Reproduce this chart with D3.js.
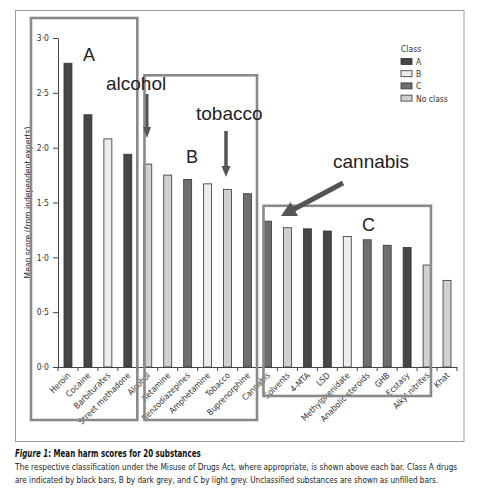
<!DOCTYPE html>
<html>
<head>
<meta charset="utf-8">
<script src="https://cdn.jsdelivr.net/npm/d3@7"></script>
<style>
  body { margin: 0; background: #fff; }
  svg { display: block; }
  .lab { font-family: "Liberation Sans Narrow", "DejaVu Sans Condensed", "Noto Sans", sans-serif; fill: #333; }
  .note { font-family: "Liberation Sans", Arial, sans-serif; fill: #222; }
  .cap { font-family: "Liberation Sans Narrow", "DejaVu Sans Condensed", "Noto Sans", sans-serif; fill: #222; }
</style>
</head>
<body>
<svg id="chart" width="479" height="492"></svg>
<script>
const substances = ['Heroin', 'Cocaine', 'Barbiturates', 'Street methadone', 'Alcohol',
  'Ketamine', 'Benzodiazepines', 'Amphetamine', 'Tobacco', 'Buprenorphine',
  'Cannabis', 'Solvents', '4-MTA', 'LSD', 'Methylphenidate',
  'Anabolic steroids', 'GHB', 'Ecstasy', 'Alkyl nitrites', 'Khat'];
const scores = [2.77, 2.30, 2.08, 1.94, 1.85, 1.75, 1.71, 1.67, 1.62, 1.58,
  1.33, 1.27, 1.26, 1.24, 1.19, 1.16, 1.11, 1.09, 0.93, 0.79];
const classes = ['A', 'A', 'B', 'A', 'none', 'none', 'C', 'B', 'none', 'C',
  'C', 'none', 'A', 'A', 'B', 'C', 'C', 'A', 'none', 'none'];
const classKeys = ['A', 'B', 'C', 'none'];
const classLabels = ['A', 'B', 'C', 'No class'];
const yTicks = [0, 0.5, 1, 1.5, 2, 2.5, 3];

const fills = d3.scaleOrdinal()
  .domain(classKeys)
  .range(['#464646', '#ececec', '#6f6f6f', '#d0d0d0']);

const svg = d3.select('#chart');

const x = d3.scaleBand()
  .domain(substances)
  .range([58, 457])
  .paddingInner(0.55)
  .paddingOuter(0.275);

const y = d3.scaleLinear()
  .domain([0, 3])
  .range([367, 38]);

// outer frame
svg.append('rect')
  .attr('x', 15.5).attr('y', 10.5)
  .attr('width', 448.5).attr('height', 431)
  .attr('fill', 'none')
  .attr('stroke', '#9a9a9a');

// bars
const rows = substances.map((name, i) => ({ name, score: scores[i], cls: classes[i] }));

svg.append('g')
  .selectAll('rect')
  .data(rows)
  .join('rect')
  .attr('x', d => x(d.name) + 0.5)
  .attr('y', d => y(d.score))
  .attr('width', x.bandwidth() - 1)
  .attr('height', d => y(0) - y(d.score))
  .attr('fill', d => fills(d.cls))
  .attr('stroke', '#333')
  .attr('stroke-width', 0.8);

// y axis
const yAxis = svg.append('g')
  .attr('transform', `translate(${x.range()[0]},0)`)
  .call(d3.axisLeft(y)
    .tickValues(yTicks)
    .tickFormat(d => d.toFixed(1).replace('.', '\u00b7'))
    .tickSize(5)
    .tickSizeOuter(0)
    .tickPadding(4));
yAxis.select('.domain').attr('stroke', '#444');
yAxis.selectAll('.tick line').attr('stroke', '#444');
yAxis.selectAll('.tick text')
  .attr('class', 'lab')
  .style('font-size', '8.5px');

// x axis: ticks sit on the band boundaries
const step = x.step();
const boundaries = substances.map(d => x(d) - x.paddingOuter() * step)
  .concat([x.range()[1]]);
const xAxis = svg.append('g');
xAxis.append('line')
  .attr('x1', x.range()[0]).attr('x2', x.range()[1])
  .attr('y1', y(0) + 0.5).attr('y2', y(0) + 0.5)
  .attr('stroke', '#444');
xAxis.selectAll('.btick')
  .data(boundaries)
  .join('line')
  .attr('class', 'btick')
  .attr('x1', d => d).attr('x2', d => d)
  .attr('y1', y(0)).attr('y2', y(0) + 4)
  .attr('stroke', '#444');
xAxis.selectAll('.xlab')
  .data(substances)
  .join('text')
  .attr('class', 'lab xlab')
  .attr('text-anchor', 'end')
  .style('font-size', '8.5px')
  .attr('transform', d => `translate(${x(d) + x.bandwidth() / 2 + 3},${y(0) + 9}) rotate(-45)`)
  .text(d => d);

// y axis title
svg.append('text')
  .attr('class', 'lab')
  .attr('text-anchor', 'middle')
  .style('font-size', '8.5px')
  .style('fill', '#222')
  .attr('transform', `translate(31,${(y(0) + y(3)) / 2}) rotate(-90)`)
  .text('Mean score (from independent experts)');

// legend
const legend = svg.append('g').attr('transform', 'translate(401,0)');
legend.append('text')
  .attr('class', 'lab')
  .style('font-size', '8.5px')
  .attr('x', 0).attr('y', 52)
  .text('Class');
const items = legend.selectAll('.item')
  .data(classKeys)
  .join('g')
  .attr('class', 'item')
  .attr('transform', (d, i) => `translate(0,${58.5 + i * 12.2})`);
items.append('rect')
  .attr('width', 11).attr('height', 6)
  .attr('fill', d => fills(d))
  .attr('stroke', '#333')
  .attr('stroke-width', 0.8);
items.append('text')
  .attr('class', 'lab')
  .style('font-size', '8.5px')
  .attr('x', 15).attr('y', 6.5)
  .text((d, i) => classLabels[i]);

// highlight boxes around the class groups
const boxes = [
  { from: 'Heroin', to: 'Street methadone', top: 3.0, lift: 20, bottom: 420, pad: [32.5, 5], label: 'A', lx: 83, ly: 61 },
  { from: 'Alcohol', to: 'Buprenorphine', top: 2.66, lift: 0, bottom: 420, pad: [-1.2, 5], label: 'B', lx: 186, ly: 163 },
  { from: 'Cannabis', to: 'Alkyl nitrites', top: 1.47, lift: 0, bottom: 396, pad: [-0.5, -0.6], label: 'C', lx: 362, ly: 231 }
];
svg.append('g')
  .selectAll('rect')
  .data(boxes)
  .join('rect')
  .attr('x', d => x(d.from) - d.pad[0])
  .attr('y', d => y(d.top) - d.lift)
  .attr('width', d => x(d.to) + x.bandwidth() + d.pad[1] - (x(d.from) - d.pad[0]))
  .attr('height', d => d.bottom - (y(d.top) - d.lift))
  .attr('fill', 'none')
  .attr('stroke', '#8a8a8a')
  .attr('stroke-width', 2.6);

svg.append('g')
  .selectAll('text')
  .data(boxes)
  .join('text')
  .attr('class', 'note')
  .style('font-size', '18px')
  .attr('x', d => d.lx).attr('y', d => d.ly)
  .text(d => d.label);

// annotations with arrows
const notes = [
  { text: 'alcohol', x: 106, y: 90, tail: [147, 94], tip: [147, 138], shaft: 3, head: 11, width: 8 },
  { text: 'tobacco', x: 196, y: 120, tail: [226, 131], tip: [226, 177], shaft: 3.5, head: 11, width: 9 },
  { text: 'cannabis', x: 333, y: 168, tail: [343, 183], tip: [281, 216], shaft: 5, head: 15, width: 16 }
];
svg.append('g')
  .selectAll('text')
  .data(notes)
  .join('text')
  .attr('class', 'note')
  .style('font-size', '19px')
  .attr('x', d => d.x).attr('y', d => d.y)
  .text(d => d.text);

const arrowPath = d => {
  const [x0, y0] = d.tail;
  const [x1, y1] = d.tip;
  const len = Math.hypot(x1 - x0, y1 - y0);
  const ux = (x1 - x0) / len, uy = (y1 - y0) / len;
  const nx = -uy, ny = ux;
  const bx = x1 - ux * d.head, by = y1 - uy * d.head;
  const s = d.shaft / 2, w = d.width / 2;
  const pts = [
    [x0 + nx * s, y0 + ny * s], [bx + nx * s, by + ny * s], [bx + nx * w, by + ny * w],
    [x1, y1],
    [bx - nx * w, by - ny * w], [bx - nx * s, by - ny * s], [x0 - nx * s, y0 - ny * s]
  ];
  return d3.line()(pts) + 'Z';
};
svg.append('g')
  .selectAll('path')
  .data(notes)
  .join('path')
  .attr('d', arrowPath)
  .attr('fill', '#555');

// caption: each line squeezed horizontally to the width it has in print
const fitWidth = (g, width) => {
  const w = g.node().getBBox().width;
  const sx = Math.min(1, width / w);
  g.attr('transform', `translate(15,0) scale(${sx},1)`);
};

const titleG = svg.append('g');
const title = titleG.append('text')
  .attr('class', 'cap')
  .attr('x', 0).attr('y', 457)
  .style('font-size', '10px')
  .style('font-weight', 'bold')
  .style('fill', '#111');
title.append('tspan').style('font-style', 'italic').text('Figure 1');
title.append('tspan').text(': Mean harm scores for 20 substances');
fitWidth(titleG, 186);

const captionLines = [
  'The respective classification under the Misuse of Drugs Act, where appropriate, is shown above each bar. Class A drugs',
  'are indicated by black bars, B by dark grey, and C by light grey. Unclassified substances are shown as unfilled bars.'
];
const captionWidths = [444, 424];
captionLines.forEach((line, i) => {
  const g = svg.append('g');
  g.append('text')
    .attr('class', 'cap')
    .attr('x', 0)
    .attr('y', 470.5 + i * 12.8)
    .style('font-size', '9.5px')
    .text(line);
  fitWidth(g, captionWidths[i]);
});
</script>
</body>
</html>
